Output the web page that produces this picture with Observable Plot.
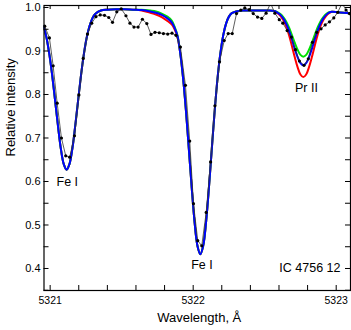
<!DOCTYPE html>
<html><head><meta charset="utf-8">
<script src="https://cdn.jsdelivr.net/npm/d3@7"></script>
<script src="https://cdn.jsdelivr.net/npm/@observablehq/plot@0.6"></script>
<style>
body{margin:0;background:#fff;}
#chart{width:351px;height:330px;}
svg{display:block;}
</style></head><body><div id="chart"></div>
<script>
// Observed spectrum (black dots)
const obsWave = [5320.962,5320.995,5321.021,5321.049,5321.079,5321.109,5321.137,5321.170,5321.201,5321.231,
5321.261,5321.291,5321.320,5321.350,5321.380,5321.410,5321.436,5321.466,5321.497,5321.530,
5321.558,5321.586,5321.615,5321.645,5321.676,5321.705,5321.733,5321.763,5321.792,5321.822,
5321.852,5321.880,5321.911,5321.946,5321.976,5322.002,5322.032,5322.060,5322.091,5322.122,
5322.152,5322.184,5322.217,5322.245,5322.273,5322.303,5322.333,5322.361,5322.392,5322.420,
5322.450,5322.480,5322.510,5322.541,5322.571,5322.602,5322.627,5322.657,5322.687,5322.715,
5322.743,5322.775,5322.805,5322.834,5322.864,5322.894,5322.923,5322.953,5322.983,5323.011,
5323.041,5323.069,5323.093];
const obsFlux = [0.957,0.930,0.866,0.780,0.700,0.659,0.656,0.705,0.799,0.883,
0.939,0.964,0.979,0.983,0.982,0.977,0.966,0.990,0.997,0.981,
0.964,0.955,0.955,0.973,0.963,0.938,0.943,0.942,0.940,0.939,
0.941,0.936,0.909,0.821,0.693,0.549,0.464,0.452,0.529,0.645,
0.774,0.875,0.924,0.940,0.940,0.986,0.994,0.999,0.995,0.986,
0.978,0.975,0.987,1.010,0.987,0.972,0.964,0.947,0.932,0.903,
0.877,0.867,0.882,0.920,0.943,0.951,0.960,0.967,0.976,0.989,
1.010,0.994,0.986];

// Synthetic spectra
const modelWave = [5320.955,5320.975,5320.995,5321.015,5321.035,5321.055,5321.075,5321.095,5321.115,5321.135,
5321.155,5321.175,5321.195,5321.215,5321.235,5321.255,5321.275,5321.295,5321.315,5321.355,
5321.40,5321.46,5321.52,5321.58,5321.64,5321.70,5321.74,5321.78,5321.82,5321.85,5321.87,
5321.89,5321.91,5321.93,5321.95,5321.97,5321.99,5322.01,5322.03,5322.05,5322.07,
5322.09,5322.11,5322.13,5322.15,5322.17,5322.19,5322.21,5322.23,5322.25,5322.27,5322.30,5322.35,
5322.40,5322.46,5322.52,5322.57,
5322.59,5322.61,5322.63,5322.65,5322.67,5322.69,5322.71,5322.73,5322.75,5322.77,
5322.79,5322.81,5322.83,5322.85,5322.87,5322.89,5322.91,5322.93,5322.95,5322.97,
5323.01,5323.05,5323.10];
const blueFlux = [0.957,0.930,0.891,0.842,0.785,0.727,0.675,0.640,0.627,0.640,
0.675,0.727,0.785,0.842,0.891,0.930,0.957,0.975,0.985,0.993,
0.995,0.996,0.996,0.995,0.994,0.991,0.988,0.983,0.975,0.966,0.953,
0.935,0.894,0.836,0.761,0.674,0.585,0.506,0.452,0.433,0.452,
0.506,0.585,0.674,0.761,0.836,0.894,0.936,0.963,0.979,0.987,0.991,0.993,
0.993,0.993,0.993,0.992,
0.988,0.983,0.975,0.963,0.947,0.927,0.905,0.886,0.872,0.867,
0.872,0.886,0.905,0.927,0.947,0.963,0.975,0.983,0.988,0.990,
0.989,0.988,0.987];
const redFlux = [0.957,0.930,0.891,0.842,0.785,0.727,0.675,0.640,0.627,0.640,
0.675,0.727,0.785,0.842,0.891,0.930,0.957,0.975,0.985,0.993,
0.995,0.996,0.996,0.995,0.993,0.988,0.984,0.978,0.969,0.961,0.950,
0.933,0.894,0.836,0.761,0.674,0.585,0.506,0.452,0.433,0.452,
0.506,0.585,0.674,0.761,0.836,0.894,0.936,0.963,0.979,0.987,0.991,0.993,
0.993,0.993,0.993,0.991,
0.987,0.981,0.971,0.957,0.937,0.912,0.886,0.863,0.846,0.840,
0.846,0.863,0.886,0.912,0.937,0.957,0.971,0.981,0.987,0.990,
0.989,0.988,0.987];
const greenFlux = [0.957,0.930,0.891,0.842,0.785,0.727,0.675,0.640,0.627,0.640,
0.675,0.727,0.785,0.842,0.891,0.930,0.957,0.975,0.985,0.993,
0.995,0.996,0.996,0.995,0.995,0.993,0.991,0.986,0.979,0.970,0.956,
0.936,0.894,0.836,0.761,0.674,0.585,0.506,0.452,0.433,0.452,
0.506,0.585,0.674,0.761,0.836,0.894,0.936,0.963,0.979,0.987,0.991,0.993,
0.993,0.993,0.993,0.992,
0.989,0.985,0.978,0.968,0.954,0.937,0.919,0.903,0.891,0.887,
0.891,0.903,0.919,0.937,0.954,0.968,0.978,0.985,0.989,0.990,
0.989,0.988,0.987];

// Axis ticks and labels
const xTickLabels = [5321, 5322, 5323];
const xTicks = [5321.0,5321.2,5321.4,5321.6,5321.8,5322.0,5322.2,5322.4,5322.6,5322.8,5323.0];
const yTickLabels = [0.4,0.5,0.6,0.7,0.8,0.9,1.0];
const yTicks = [0.35,0.4,0.45,0.5,0.55,0.6,0.65,0.7,0.75,0.8,0.85,0.9,0.95,1.0];

// Line annotations
const lineNames = ["Fe I","Fe I","Pr II"];
const lineWave = [5321.12, 5322.061, 5322.792];
const lineFlux = [0.598, 0.409, 0.816];
const objectName = "IC 4756 12";
const objectPos = [5323.03, 0.402];

const W = 351, H = 330, mL = 43.5, mR = 1, mT = 5, mB = 40;
const pw = W - mL - mR, ph = H - mT - mB;
const font = "'Liberation Sans', Arial, Helvetica, sans-serif";

const obs = obsWave.map((x, i) => ({x, y: obsFlux[i]}));
const mk = arr => modelWave.map((x, i) => ({x, y: arr[i]}));
const labels = lineNames.map((t, i) => ({t, x: lineWave[i], y: lineFlux[i]}));

const chart = Plot.plot({
  width: W, height: H,
  marginLeft: mL, marginRight: mR, marginTop: mT, marginBottom: mB,
  style: {fontFamily: font, fontSize: "11px", color: "#000", background: "#fff", overflow: "visible"},
  x: {domain: [5320.957, 5323.10]},
  y: {domain: [0.3494, 1.0046]},
  marks: [
    Plot.line(mk(redFlux), {x: "x", y: "y", stroke: "#ff0000", strokeWidth: 2, curve: "catmull-rom", clip: true}),
    Plot.line(mk(greenFlux), {x: "x", y: "y", stroke: "#00e000", strokeWidth: 2, curve: "catmull-rom", clip: true}),
    Plot.line(mk(blueFlux), {x: "x", y: "y", stroke: "#0000ff", strokeWidth: 2, curve: "catmull-rom", clip: true}),
    Plot.line(obs, {x: "x", y: "y", stroke: "#333", strokeWidth: 0.8, clip: true}),
    Plot.dot(obs, {x: "x", y: "y", r: 1.6, fill: "#000", stroke: "none", clip: true}),
    Plot.tickX(xTicks, {x: d => d, insetTop: ph - 5, stroke: "#000", strokeWidth: 1}),
    Plot.tickX(xTicks, {x: d => d, insetBottom: ph - 4, stroke: "#000", strokeWidth: 1}),
    Plot.tickY(yTicks, {y: d => d, insetRight: pw - 5, stroke: "#000", strokeWidth: 1}),
    Plot.tickY(yTicks, {y: d => d, insetLeft: pw - 5, stroke: "#000", strokeWidth: 1}),
    Plot.frame({stroke: "#000", strokeWidth: 1.2}),
    Plot.axisX({ticks: xTickLabels, tickSize: 0, tickPadding: 6, tickFormat: d => String(d), fontSize: 10.5, label: null}),
    Plot.axisY({ticks: yTickLabels, tickSize: 0, tickPadding: 3.5, tickFormat: d => d.toFixed(1), fontSize: 11, label: null}),
    Plot.text(labels, {x: "x", y: "y", text: "t", fontSize: 12.5, fill: "#000", lineAnchor: "middle"}),
    Plot.text([objectName], {x: () => objectPos[0], y: () => objectPos[1], text: d => d, textAnchor: "end", fontSize: 12.5, fill: "#000", lineAnchor: "middle"}),
    Plot.text(["Wavelength, Å"], {frameAnchor: "bottom", text: d => d, dy: 27, dx: 2, fontSize: 13, fill: "#000", lineAnchor: "middle"}),
    Plot.text(["Relative intensity"], {frameAnchor: "left", text: d => d, rotate: -90, dx: -33.5, dy: 8.5, fontSize: 13, fill: "#000", lineAnchor: "middle"})
  ]
});
document.getElementById("chart").appendChild(chart);
</script>
</body></html>
